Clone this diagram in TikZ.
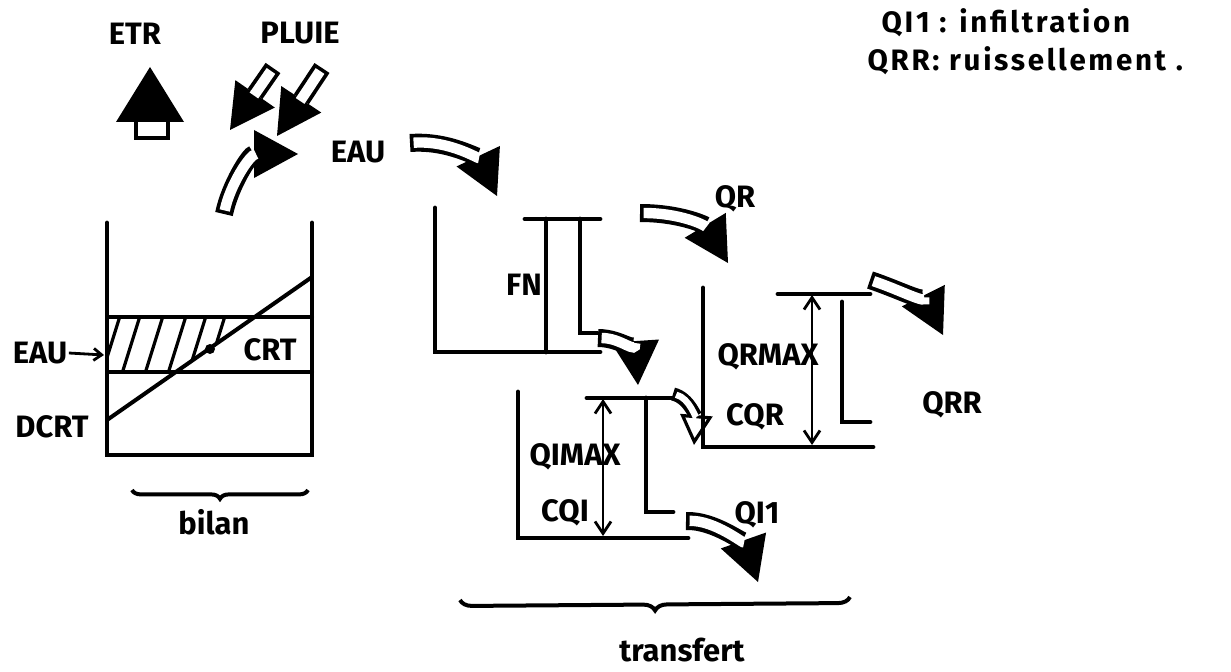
\documentclass[tikz,border=0pt]{standalone}
\usepackage{fontspec}
\setmainfont{Fira Sans}
\usetikzlibrary{arrows.meta,decorations.pathreplacing}
\definecolor{HydInk}{RGB}{0,0,0}
\tikzset{
  hyd/wall/.style={
    draw=HydInk,
    line width=1.2mm,
    line cap=round
  },
  hyd/level/.style={
    draw=HydInk,
    line width=1mm,
    line cap=round
  },
  hyd/hatch/.style={draw=HydInk, line width=0.8mm},
  hyd/span/.style={
    draw=HydInk,
    line width=0.7mm,
    {Straight Barb[length=3mm,width=4mm]}-{Straight Barb[length=3mm,width=4mm]}
  },
  hyd/pointer/.style={draw=HydInk, line width=0.7mm, -{Straight Barb[length=2mm,width=3mm]}},
  hyd/flow/.style={
    draw=white,
    line width=2.6mm,
    shorten >=10.5mm,
    shorten <=0.9mm,
    preaction={draw=HydInk, line width=4.5mm, shorten >=0pt, shorten <=0pt,
      -{Triangle[length=11mm,width=12mm,line width=0pt]}}
  },
  hyd/openflow/.style={
    draw=white,
    line width=1.6mm,
    shorten >=7mm,
    shorten <=0.8mm,
    preaction={draw=HydInk, line width=3.3mm, shorten >=0pt, shorten <=0pt,
      -{Triangle[length=7.5mm,width=8mm,fill=white,line width=0.8mm]}}
  },
  hyd/brace/.style={
    draw=HydInk,
    line width=1mm,
    decorate,
    decoration={brace, mirror, amplitude=#1}
  },
  hyd/label/.style={font=\fontsize{22}{26}\selectfont\bfseries, text=HydInk, inner sep=1pt},
  hyd/legend/.style={font=\fontsize{21}{25}\selectfont\bfseries\addfontfeature{LetterSpace=9}, text=HydInk, inner sep=1pt, anchor=west}
}

\begin{document}
\begin{tikzpicture}[x=0.25mm,y=-0.25mm]
  \useasboundingbox (0,0) rectangle (1231,671);

  % legend
  \node[hyd/legend] (legQi) at (880,23) {QI1 : infiltration};
  \node[hyd/legend] (legQrr) at (866,61) {QRR: ruissellement .};

  % atmosphere
  \node[hyd/label] (etr) at (135,34) {ETR};
  \node[hyd/label] (pluie) at (300,33) {PLUIE};
  \draw[line width=0.9mm, draw=HydInk, fill=white] (136,116) rectangle (168,138);
  \fill[HydInk] (150,67) -- (116,122) -- (184,122) -- cycle;
  \coordinate (rainA) at (273,68);
  \coordinate (rainAEnd) at (230,130);
  \coordinate (rainB) at (322,68);
  \coordinate (rainBEnd) at (277,136);
  \draw[hyd/flow] (rainA) -- (rainAEnd);
  \draw[hyd/flow] (rainB) -- (rainBEnd);

  % bilan reservoir
  \coordinate (bilTL) at (107,223);
  \coordinate (bilBL) at (107,455);
  \coordinate (bilBR) at (312,455);
  \coordinate (bilTR) at (312,223);
  \draw[hyd/wall] (bilTL) -- (bilBL) -- (bilBR) -- (bilTR);
  \begin{scope}
    \clip (108,317) -- (254,317) -- (176,372) -- (108,372) -- cycle;
    \draw[hyd/hatch] (100,380) -- (125,300);
    \draw[hyd/hatch] (120,380) -- (145,300);
    \draw[hyd/hatch] (143,380) -- (168,300);
    \draw[hyd/hatch] (166,380) -- (191,300);
    \draw[hyd/hatch] (186,380) -- (211,300);
    \draw[hyd/hatch] (205,380) -- (230,300);
  \end{scope}
  \draw[hyd/level] (107,317) -- (312,317);
  \draw[hyd/level] (107,372) -- (312,372);
  \draw[hyd/level] (107,420) -- (312,277);
  \fill[HydInk] (210,349) circle (5);
  \node[hyd/label] (crt) at (270,350) {CRT};
  \node[hyd/label] (eauLvl) at (40,353) {EAU};
  \coordinate (eauMark) at (104,355);
  \draw[hyd/pointer] (eauLvl.east) -- (eauMark);
  \node[hyd/label] (dcrt) at (52,427) {DCRT};
  \draw[hyd/brace=2.2mm] (132,490) -- (308,490);
  \node[hyd/label] (bilan) at (214,522) {bilan};

  % exchange to EAU
  \coordinate (bilanOut) at (224,214);
  \coordinate (eauIn) at (298,154);
  \draw[hyd/flow] (bilanOut) .. controls (230,185) and (250,154) .. (eauIn);
  \node[hyd/label] (eau) at (358,152) {EAU};
  \coordinate (eauOut) at (410,143);
  \coordinate (fnIn) at (497,196);
  \draw[hyd/flow] (eauOut) .. controls (450,140) and (480,160) .. (fnIn);

  % FN reservoir
  \draw[hyd/wall] (435,208) -- (435,352) -- (600,352);
  \draw[hyd/wall] (525,219) -- (600,219);
  \draw[hyd/wall] (546,219) -- (546,352);
  \draw[hyd/wall] (580,219) -- (580,333) -- (597,333);
  \node[hyd/label] (fn) at (524,285) {FN};
  \coordinate (qrOut) at (640,213);
  \coordinate (qrEnd) at (728,263);
  \draw[hyd/flow] (qrOut) .. controls (680,213) and (705,225) .. (qrEnd);
  \node[hyd/label] (qr) at (735,199) {QR};
  \coordinate (fnOut) at (598,338);
  \coordinate (qiIn) at (638,385);
  \draw[hyd/flow] (fnOut) .. controls (622,338) and (636,355) .. (qiIn);

  % QI reservoir
  \draw[hyd/wall] (518,392) -- (518,538) -- (688,538);
  \draw[hyd/wall] (587,398) -- (673,398);
  \draw[hyd/wall] (646,398) -- (646,512) -- (673,512);
  \coordinate (qiTop) at (603,399);
  \coordinate (qiBot) at (603,536);
  \draw[hyd/span] (qiTop) -- (qiBot);
  \node[hyd/label] (qimax) at (575,457) {QIMAX};
  \node[hyd/label] (cqi) at (565,513) {CQI};
  \coordinate (qiOver) at (673,394);
  \coordinate (qrIn) at (694,445);
  \draw[hyd/openflow] (qiOver) .. controls (690,398) and (696,420) .. (qrIn);
  \coordinate (qiOut) at (686,521);
  \coordinate (qiEnd) at (758,582);
  \draw[hyd/flow] (qiOut) .. controls (715,520) and (745,545) .. (qiEnd);
  \node[hyd/label] (qi) at (757,515) {QI1};

  % QR reservoir
  \draw[hyd/wall] (703,288) -- (703,447) -- (873,447);
  \draw[hyd/wall] (778,294) -- (870,294);
  \draw[hyd/wall] (842,302) -- (842,422) -- (870,422);
  \coordinate (qrTop) at (812,295);
  \coordinate (qrBot) at (812,445);
  \draw[hyd/span] (qrTop) -- (qrBot);
  \node[hyd/label] (qrmax) at (768,357) {QRMAX};
  \node[hyd/label] (cqr) at (755,417) {CQR};
  \coordinate (qrrOut) at (870,280);
  \coordinate (qrrEnd) at (943,335);
  \draw[hyd/flow] (qrrOut) .. controls (900,290) and (928,305) .. (qrrEnd);
  \node[hyd/label] (qrr) at (952,405) {QRR};

  \draw[hyd/brace=3mm] (460,600) -- (850,597);
  \node[hyd/label] (transfert) at (682,650) {transfert};
\end{tikzpicture}
\end{document}
